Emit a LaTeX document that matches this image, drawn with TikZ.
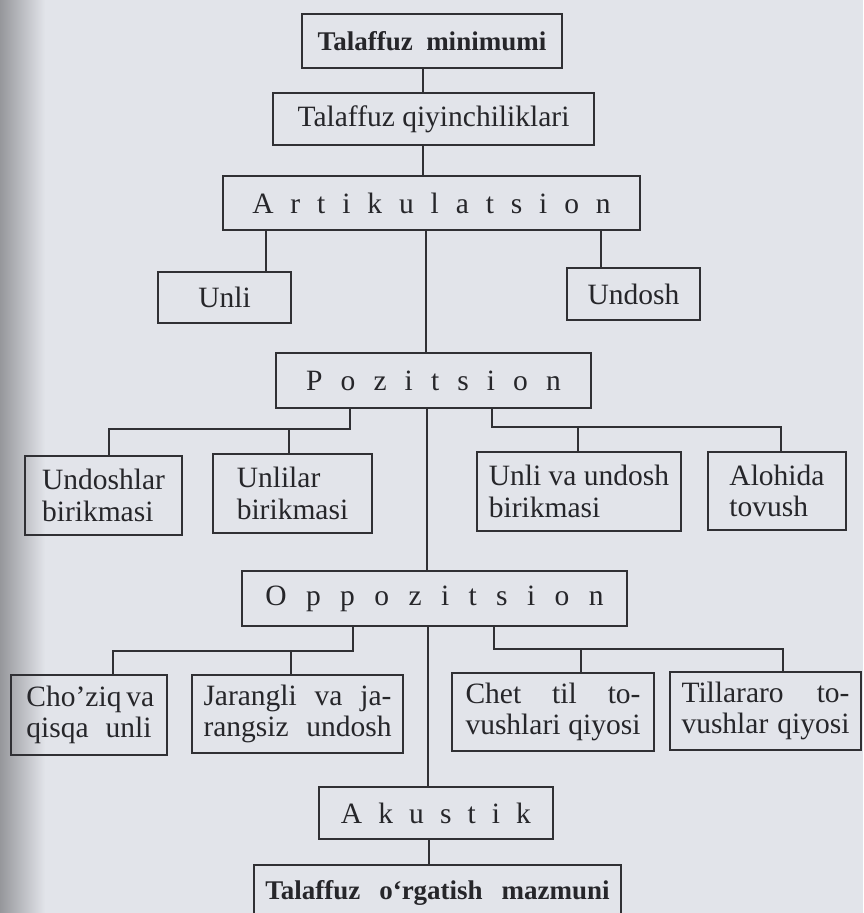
\documentclass[tikz,border=0pt]{standalone}
\usepackage{fontspec}
\setmainfont{Liberation Serif}
\definecolor{bg}{RGB}{226,228,234}
\definecolor{edge}{RGB}{150,151,155}
\definecolor{ink}{RGB}{48,48,52}
\definecolor{txt}{RGB}{38,38,42}
\newcommand\regfont{\fontsize{29.5}{31.5}\selectfont}
\newcommand\boldfont{\fontsize{27}{30}\selectfont\bfseries}
\newcommand\jl[2]{\makebox[#1][s]{#2}}
\begin{document}
\begin{tikzpicture}[x=1pt,y=-1pt,
  box/.style={draw=ink,line width=2.3pt,inner sep=0pt,text=txt,font=\regfont,align=left},
  conn/.style={draw=ink,line width=2pt}]
\useasboundingbox (0,0) rectangle (863,913);
\clip (0,0) rectangle (863,913);
\fill[bg] (0,0) rectangle (863,913);
\shade[left color=edge,right color=bg] (0,0) rectangle (45,913);

% nodes
\node[box,font=\boldfont,minimum width=260pt,minimum height=54pt] (top1) at (432,41) {Talaffuz\hspace{0.5em}minimumi};
\node[box,minimum width=321pt,minimum height=52pt] (qiy) at (433.5,119) {Talaffuz qiyinchiliklari};
\node[box,minimum width=417pt,minimum height=54pt] (art) at (431.5,203) {\spaceskip=16.9pt A r t i k u l a t s i o n};
\node[box,minimum width=133pt,minimum height=51pt] (unli) at (224.5,297.5) {Unli};
\node[box,minimum width=133pt,minimum height=52pt] (undosh) at (633.5,294) {Undosh};
\node[box,minimum width=315pt,minimum height=55pt] (poz) at (433.5,380.5) {\spaceskip=18.1pt P o z i t s i o n};
\node[box,minimum width=157pt,minimum height=79pt] (undsh) at (103.5,495.5) {Undoshlar\\birikmasi};
\node[box,minimum width=159pt,minimum height=79pt] (unlil) at (292.5,493.5) {Unlilar\\birikmasi};
\node[box,minimum width=204pt,minimum height=79pt] (uvu) at (579,491.5) {Unli va undosh\\birikmasi};
\node[box,minimum width=138pt,minimum height=78pt] (aloh) at (777,491) {Alohida\\tovush};
\node[box,minimum width=385pt,minimum height=55pt] (opp) at (434.5,598.5) {\spaceskip=19.4pt O p p o z i t s i o n};
\node[box,minimum width=156pt,minimum height=80pt] (choz) at (89,715) {\jl{125pt}{Cho’ziq va}\\\jl{125pt}{qisqa unli}};
\node[box,minimum width=211pt,minimum height=78pt] (jar) at (297.5,714) {\jl{188pt}{Jarangli va ja-}\\\jl{188pt}{rangsiz undosh}};
\node[box,minimum width=202pt,minimum height=78pt] (chet) at (553,712) {\jl{175pt}{Chet til to-}\\\jl{175pt}{vushlari qiyosi}};
\node[box,minimum width=191pt,minimum height=78pt] (till) at (765.5,711) {\jl{168pt}{Tillararo to-}\\\jl{168pt}{vushlar qiyosi}};
\node[box,minimum width=234pt,minimum height=52pt] (aku) at (436,813) {\spaceskip=16.1pt A k u s t i k};
\node[box,font=\boldfont,anchor=north,minimum width=367pt,text height=19pt,text depth=6pt,inner ysep=15pt] (fin) at (437.5,864) {Talaffuz\hspace{0.7em}o‘rgatish\hspace{0.7em}mazmuni};

% connector x positions
\coordinate (a1) at (423,0);
\coordinate (a2) at (266,0);
\coordinate (a3) at (601,0);
\coordinate (m1) at (426,0);
\coordinate (m2) at (427,0);
\coordinate (m3) at (428,0);
\coordinate (m4) at (429,0);
\coordinate (pb1) at (350,429);
\coordinate (pb2) at (492,427);
\coordinate (s1) at (109,0);
\coordinate (s2) at (289,0);
\coordinate (s3) at (578,0);
\coordinate (s4) at (781,0);
\coordinate (ob1) at (353,651);
\coordinate (ob2) at (494,649);
\coordinate (t1) at (113,0);
\coordinate (t2) at (291,0);
\coordinate (t3) at (581,0);
\coordinate (t4) at (783,0);

% connectors
\draw[conn] (top1.south -| a1) -- (qiy.north -| a1);
\draw[conn] (qiy.south -| a1) -- (art.north -| a1);
\draw[conn] (art.south -| a2) -- (unli.north -| a2);
\draw[conn] (art.south -| a3) -- (undosh.north -| a3);
\draw[conn] (art.south -| m1) -- (poz.north -| m1);
\draw[conn] (poz.south -| m2) -- (opp.north -| m2);
\draw[conn] (opp.south -| m3) -- (aku.north -| m3);
\draw[conn] (aku.south -| m4) -- (fin.north -| m4);

\draw[conn] (poz.south -| pb1) -- (pb1) -- (pb1 -| s1) -- (undsh.north -| s1);
\draw[conn] (pb1 -| s2) -- (unlil.north -| s2);
\draw[conn] (poz.south -| pb2) -- (pb2) -- (pb2 -| s4) -- (aloh.north -| s4);
\draw[conn] (pb2 -| s3) -- (uvu.north -| s3);

\draw[conn] (opp.south -| ob1) -- (ob1) -- (ob1 -| t1) -- (choz.north -| t1);
\draw[conn] (ob1 -| t2) -- (jar.north -| t2);
\draw[conn] (opp.south -| ob2) -- (ob2) -- (ob2 -| t4) -- (till.north -| t4);
\draw[conn] (ob2 -| t3) -- (chet.north -| t3);
\end{tikzpicture}
\end{document}
